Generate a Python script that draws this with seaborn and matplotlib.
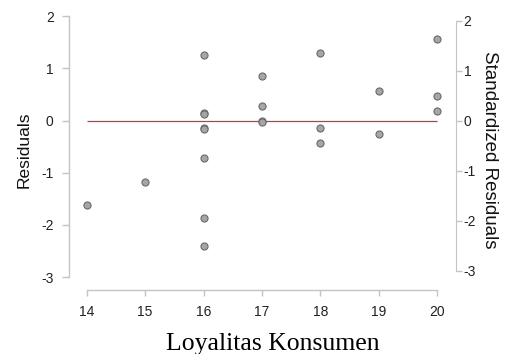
import numpy as np
import pandas as pd
import seaborn as sns
import matplotlib.pyplot as plt

# Residuals vs. predictor
loyalitas = [14, 15, 16, 16, 16, 16, 16, 16, 16, 16,
             17, 17, 17, 17, 18, 18, 18, 19, 19, 20, 20, 20]
residuals = [-1.61, -1.17, 1.25, 0.15, 0.12, -0.14, -0.17, -0.71, -1.87, -2.40,
             0.85, 0.28, 0.00, -0.02, 1.29, -0.14, -0.44, 0.57, -0.26, 1.56, 0.47, 0.19]
y_ticks = [-3, -2, -1, 0, 1, 2]
x_ticks = [14, 15, 16, 17, 18, 19, 20]
std_scale = 1.044  # standardized residual per unit residual

df = pd.DataFrame({'Loyalitas Konsumen': loyalitas, 'Residuals': residuals})

sns.set_style('white')
plt.rcParams['font.family'] = ['Liberation Sans', 'DejaVu Sans']
plt.rcParams['axes.unicode_minus'] = False

fig = plt.figure(figsize=(5.17, 3.54), dpi=100)
W, H = 517, 354
ax = fig.add_axes([69 / W, (H - 290) / H, (456 - 69) / W, (290 - 10) / H])

sns.scatterplot(data=df, x='Loyalitas Konsumen', y='Residuals', ax=ax,
                s=26, color='#a6a6a6', edgecolor='#6a6a6a', linewidth=0.8, zorder=3)
ax.hlines(0, min(loyalitas), max(loyalitas), color='#e03030', linewidth=0.9, zorder=2)

ax.set_xlim(13.697, 20.32)
ax.set_ylim(-3.247, 2.117)
ax.set_xticks(x_ticks)
ax.set_yticks(y_ticks)

spine_col = '#c4c4c4'
for side in ['top', 'right']:
    ax.spines[side].set_visible(False)
ax.spines['left'].set_bounds(-3, 2)
ax.spines['bottom'].set_bounds(14, 20)
for side in ['left', 'bottom']:
    ax.spines[side].set_color(spine_col)
    ax.spines[side].set_linewidth(1.0)

ax.tick_params(axis='y', length=5, width=1, color=spine_col, pad=6,
               labelsize=10, labelcolor='#222222', left=True)
ax.tick_params(axis='x', length=4.5, width=1, color=spine_col, pad=6,
               labelsize=10, labelcolor='#222222', bottom=True)
ax.set_xlabel('')
ax.set_ylabel('Residuals', fontsize=12.5, color='#111111', labelpad=7)

ax2 = ax.twinx()
lo, hi = ax.get_ylim()
ax2.set_ylim(lo * std_scale, hi * std_scale)
ax2.set_yticks(y_ticks)
for side in ['top', 'left', 'bottom']:
    ax2.spines[side].set_visible(False)
ax2.spines['right'].set_bounds(-3, 2)
ax2.spines['right'].set_color(spine_col)
ax2.tick_params(axis='y', length=4.5, width=1, color=spine_col, pad=1,
                labelsize=10, labelcolor='#222222', right=True)
ax2.set_ylabel('Standardized Residuals', fontsize=13.5, color='#111111',
               rotation=270, labelpad=16)

fig.text(272.5 / W, 1 - 350 / H, 'Loyalitas Konsumen', family='Liberation Serif',
         fontsize=18.5, ha='center', va='baseline', color='black')

fig.savefig('out.png', dpi=100)
